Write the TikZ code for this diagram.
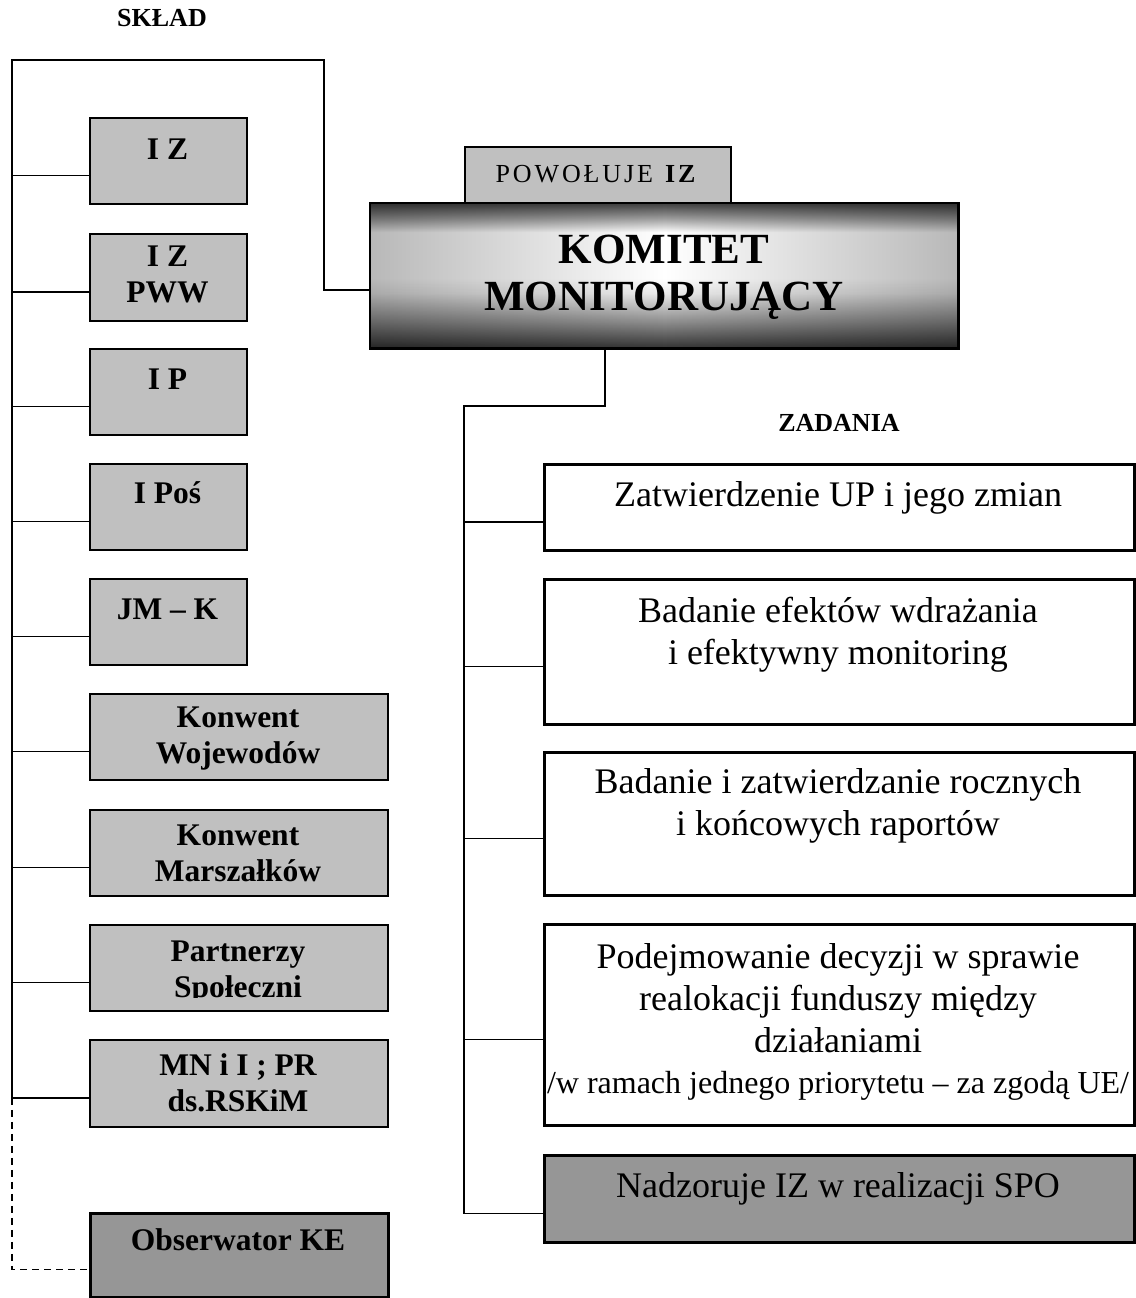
\documentclass[tikz,border=0pt]{standalone}
\usepackage{fontspec}
\setmainfont{Liberation Serif}
\usetikzlibrary{fadings}
\definecolor{lg}{RGB}{192,192,192}
\definecolor{dg}{RGB}{150,150,150}
\pgfdeclareverticalshading{kmshade}{100bp}{color(0bp)=(black!82); color(25bp)=(black!80); color(34bp)=(black!45); color(44bp)=(black!8); color(49bp)=(white); color(65bp)=(white); color(70bp)=(black!40); color(75bp)=(black!75); color(100bp)=(black!75)}
\tikzfading[name=kmedges, left color=transparent!72, right color=transparent!72, middle color=transparent!100]
\begin{document}
\begin{tikzpicture}[x=1pt,y=-1pt,
  conn/.style={line width=1.5pt},
  lbox/.style={draw, line width=1.7pt, fill=lg, anchor=north west, inner sep=0pt},
  obox/.style={draw, line width=3.2pt, fill=dg, anchor=north west, inner sep=0pt},
  rbox/.style={draw, line width=3.2pt, fill=white, anchor=north west, inner sep=0pt},
  ltxt/.style={font=\bfseries\fontsize{31.5}{36.5}\selectfont, align=center, inner sep=0pt, anchor=north},
  ltxtone/.style={font=\bfseries\fontsize{31.5}{36.5}\selectfont, inner sep=0pt, anchor=base},
  rtxt/.style={font=\fontsize{36}{42}\selectfont, align=center, inner sep=0pt, anchor=north},
  rtxtone/.style={font=\fontsize{36}{42}\selectfont, inner sep=0pt, anchor=base},
  head/.style={font=\bfseries\fontsize{26}{30}\selectfont, inner sep=0pt, anchor=base}
]
\useasboundingbox (0,0) rectangle (1135,1298);

% headings
\node[head] (sklad) at (162,27) {SKŁAD};
\node[head] (zadania) at (839,431) {ZADANIA};

% left column boxes
\node[lbox, minimum width=157pt, minimum height=86pt] (IZ) at (89,117) {};
\node[lbox, minimum width=157pt, minimum height=87pt] (IZPWW) at (89,233) {};
\node[lbox, minimum width=157pt, minimum height=86pt] (IP) at (89,348) {};
\node[lbox, minimum width=157pt, minimum height=86pt] (IPos) at (89,463) {};
\node[lbox, minimum width=157pt, minimum height=86pt] (JMK) at (89,578) {};
\node[lbox, minimum width=298pt, minimum height=86pt] (KW) at (89,693) {};
\node[lbox, minimum width=298pt, minimum height=86pt] (KMa) at (89,809) {};
\node[lbox, minimum width=298pt, minimum height=86pt] (PS) at (89,924) {};
\node[lbox, minimum width=298pt, minimum height=87pt] (MN) at (89,1039) {};
\node[obox, minimum width=298pt, minimum height=84pt] (OKE) at (89,1212) {};

\node[ltxtone] (tIZ) at (167.5,159) {I Z};
\node[ltxt] (tIZPWW) at (167.5,240.45) {\strut I Z\\PWW};
\node[ltxtone] (tIP) at (167.5,389) {I P};
\node[ltxtone] (tIPos) at (167.5,503) {I Poś};
\node[ltxtone] (tJMK) at (167.5,619) {JM – K};
\node[ltxt] (tKW) at (238,701.45) {\strut Konwent\\Wojewodów};
\node[ltxt] (tKMa) at (238,819.45) {\strut Konwent\\Marszałków};
\begin{scope}
  \clip (89,924) rectangle (387,997);
  \node[ltxt] (tPS) at (238,935.45) {\strut Partnerzy\\Społeczni};
\end{scope}
\node[ltxt] (tMN) at (238,1049.45) {\strut MN i I ; PR\\ds.RSKiM};
\node[ltxtone] (tOKE) at (238,1250) {Obserwator KE};

% central boxes
\node[draw, line width=1.7pt, fill=lg, anchor=north west, inner sep=0pt,
      minimum width=266pt, minimum height=58pt] (POW) at (464,146) {};
\node[font=\fontsize{26}{30}\selectfont, inner sep=0pt, anchor=base] (tPOW) at (597,182)
  {\addfontfeature{LetterSpace=11}POWOŁUJE \textbf{IZ}};
\node[shading=kmshade, anchor=north west, inner sep=0pt,
      minimum width=588pt, minimum height=145pt] (KM) at (370,203) {};
\fill[black, path fading=kmedges] (KM.north west) rectangle (KM.south east);
\draw[line width=2.2pt] (KM.north west) rectangle (KM.south east);
\node[font=\bfseries\fontsize{43}{47}\selectfont, align=center, inner sep=0pt, anchor=north]
  (tKM) at (664,230.1) {\strut KOMITET\\MONITORUJĄCY};

% right column boxes
\node[rbox, minimum width=590pt, minimum height=86pt] (R1) at (543,463) {};
\node[rbox, minimum width=590pt, minimum height=145pt] (R2) at (543,578) {};
\node[rbox, minimum width=590pt, minimum height=143pt] (R3) at (543,751) {};
\node[rbox, minimum width=590pt, minimum height=201pt] (R4) at (543,923) {};
\node[rbox, fill=dg, minimum width=590pt, minimum height=87pt] (R5) at (543,1154) {};

\node[rtxtone] (tR1) at (838,506) {Zatwierdzenie UP i jego zmian};
\node[rtxt] (tR2) at (838,592.6) {\strut Badanie efektów wdrażania\\i efektywny monitoring};
\node[rtxt] (tR3) at (838,763.6) {\strut Badanie i zatwierdzanie rocznych\\i końcowych raportów};
\node[rtxt] (tR4) at (838,938.6) {\strut Podejmowanie decyzji w sprawie\\realokacji funduszy między\\działaniami};
\node[font=\fontsize{32}{38}\selectfont, inner sep=0pt, anchor=base] (tR4b) at (838,1093)
  {/w ramach jednego priorytetu – za zgodą UE/};
\node[rtxtone] (tR5) at (838,1197) {Nadzoruje IZ w realizacji SPO};

% connector points
\foreach \n in {IZ,IZPWW,IP,IPos,JMK,KW,KMa,PS,MN,KM,R1,R2,R3,R4,R5}
  \coordinate (c\n) at ([yshift=-14.5pt]\n.west);
\coordinate (cOKE) at ([yshift=-14pt]OKE.west);
\coordinate (lt) at (12,60);
\coordinate (tr) at (324,60);
\coordinate (rt) at (464,406);
\coordinate (ks) at ([xshift=-59pt]KM.south);

% left tree
\draw[conn] (cMN -| lt) -- (lt) -- (tr) -- (tr |- cKM) -- (cKM);
\foreach \n in {IZ,IZPWW,IP,IPos,JMK,KW,KMa,PS,MN}
  \draw[conn] (c\n -| lt) -- (c\n);
\draw[conn, dash pattern=on 7pt off 5pt] (cMN -| lt) |- (cOKE);

% right tree
\draw[conn] (ks) |- (rt) -- (rt |- cR5);
\foreach \n in {R1,R2,R3,R4,R5}
  \draw[conn] (c\n -| rt) -- (c\n);
\end{tikzpicture}
\end{document}
